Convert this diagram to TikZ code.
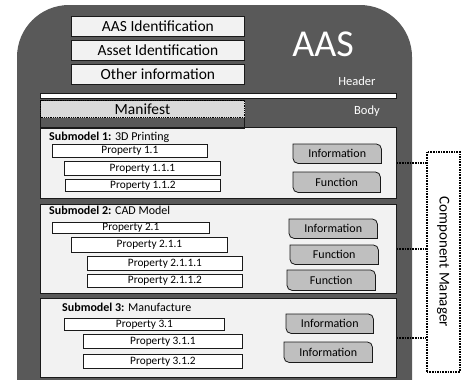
\documentclass[tikz,border=0pt]{standalone}
\usepackage{fontspec}
\setmainfont{Carlito}
\definecolor{aasdark}{HTML}{595959}
\definecolor{panel}{HTML}{F2F2F2}
\definecolor{btnfill}{HTML}{BFBFBF}
\definecolor{manifill}{HTML}{D9D9D9}
\definecolor{edge}{HTML}{1A1A1A}
\pgfdeclarelayer{back}
\pgfdeclarelayer{panels}
\pgfdeclarelayer{mid}
\pgfsetlayers{back,panels,mid,main}
\newcommand{\fsz}[1]{\fontsize{#1}{#1}\selectfont}
% tab-like button outline: rounded top-right and bottom-left corners
\newcommand{\btnoutline}[1]{%
  \begin{pgfonlayer}{mid}
  \filldraw[fill=btnfill, draw=edge, line width=0.8pt]
    (#1.north west) -- ([xshift=-5pt]#1.north east)
    arc[start angle=90, end angle=0, radius=5pt]
    -- (#1.south east) -- ([xshift=5pt]#1.south west)
    arc[start angle=270, end angle=180, radius=5pt] -- cycle;
  \end{pgfonlayer}}
\tikzset{
  box/.style={draw=edge, line width=0.8pt, inner sep=0pt, anchor=north west},
  hdrbox/.style={box, fill=panel, font=\fsz{15.5}},
  prop/.style={box, fill=white, font=\fsz{11.3}},
  btn/.style={inner sep=0pt, anchor=north west, font=\fsz{12}},
  smbox/.style={box, fill=panel},
  smtitle/.style={anchor=base west, inner sep=0pt, font=\fsz{12}},
  whitelabel/.style={text=white, inner sep=0pt},
  conn/.style={draw=black, line width=1.6pt, dash pattern=on 1.6pt off 1pt}
}
\begin{document}
\begin{tikzpicture}[x=1pt, y=-1pt]
\useasboundingbox (0,0) rectangle (466,380);

% AAS body shape
\begin{pgfonlayer}{back}
\fill[aasdark] (17,382) -- (17,57) arc[start angle=180, end angle=90, radius=52pt]
  -- (360,5) arc[start angle=90, end angle=0, radius=52pt] -- (412,382) -- cycle;
\end{pgfonlayer}

\node[whitelabel, font=\fsz{38}] (aas) at (323,44) {AAS};
\node[whitelabel, font=\fsz{12.5}] (hdr) at (357,81) {Header};
\node[whitelabel, font=\fsz{12.5}] (body) at (367,111) {Body};

% header entries
\node[hdrbox, minimum width=173pt, minimum height=20pt] (aasid) at (71,16) {AAS Identification};
\node[hdrbox, minimum width=173pt, minimum height=20pt] (assetid) at (71,40) {Asset Identification};
\node[hdrbox, minimum width=173pt, minimum height=20pt] (other) at (71,64) {Other information};

% header/body separator
\node[box, fill=white, minimum width=356pt, minimum height=5pt] (sep) at (40,93) {};

% manifest
\draw[edge, line width=0.8pt] (40,100) rectangle (244,128);
\node[box, fill=manifill, draw=black, dash pattern=on 1pt off 0.8pt, line width=1pt,
      minimum width=204pt, minimum height=17pt, font=\fsz{15.5}] (manifest) at (40,100) {Manifest};

% submodel panels
\begin{pgfonlayer}{panels}
\node[smbox, minimum width=356pt, minimum height=71pt] (sm1) at (40,127) {};
\node[smbox, minimum width=356pt, minimum height=89pt] (sm2) at (40,204) {};
\node[smbox, minimum width=356pt, minimum height=79pt] (sm3) at (40,298) {};
\end{pgfonlayer}

\node[smtitle] (t1) at (49,140) {\textbf{Submodel 1:} 3D Printing};
\node[smtitle] (t2) at (49,214) {\textbf{Submodel 2:} CAD Model};
\node[smtitle] (t3) at (62,311) {\textbf{Submodel 3:} Manufacture};

% properties
\node[prop, minimum width=155pt, minimum height=13pt] (p11)   at (52,144) {Property 1.1};
\node[prop, minimum width=156pt, minimum height=14pt] (p111)  at (64,161) {Property 1.1.1};
\node[prop, minimum width=155pt, minimum height=12pt] (p112)  at (65,179) {Property 1.1.2};
\node[prop, minimum width=157pt, minimum height=11pt] (p21)   at (52,222) {Property 2.1};
\node[prop, minimum width=156pt, minimum height=15pt] (p211)  at (71,237) {Property 2.1.1};
\node[prop, minimum width=155pt, minimum height=14pt] (p2111) at (87,256) {Property 2.1.1.1};
\node[prop, minimum width=155pt, minimum height=13pt] (p2112) at (87,274) {Property 2.1.1.2};
\node[prop, minimum width=160pt, minimum height=12pt] (p31)   at (64,318) {Property 3.1};
\node[prop, minimum width=159pt, minimum height=14pt] (p311)  at (83,334) {Property 3.1.1};
\node[prop, minimum width=159pt, minimum height=14pt] (p312)  at (83,354) {Property 3.1.2};

% information / function buttons
\node[btn, minimum width=88pt, minimum height=19pt] (i1) at (293,144) {Information};
\node[btn, minimum width=87pt, minimum height=20pt] (f1) at (293,172) {Function};
\node[btn, minimum width=88pt, minimum height=19pt] (i2) at (289,219) {Information};
\node[btn, minimum width=88pt, minimum height=19pt] (f2) at (290,245) {Function};
\node[btn, minimum width=88pt, minimum height=20pt] (f3) at (287,270) {Function};
\node[btn, minimum width=87pt, minimum height=19pt] (i3) at (286,314) {Information};
\node[btn, minimum width=88pt, minimum height=20pt] (i4) at (284,342) {Information};
\btnoutline{i1}\btnoutline{f1}\btnoutline{i2}\btnoutline{f2}
\btnoutline{f3}\btnoutline{i3}\btnoutline{i4}

% component manager
\node[box, fill=white, draw=black, line width=1.6pt, dash pattern=on 1.6pt off 1pt,
      minimum width=33pt, minimum height=220pt] (cm) at (426,151) {};
\node[rotate=-90, inner sep=0pt, font=\fsz{15}] (cmtext) at (cm.center) {Component Manager};

\draw[conn] (sm1.east) -- (sm1.east -| cm.west);
\draw[conn] (sm2.east) -- (sm2.east -| cm.west);
\draw[conn] (sm3.east) -- (sm3.east -| cm.west);
\end{tikzpicture}
\end{document}
